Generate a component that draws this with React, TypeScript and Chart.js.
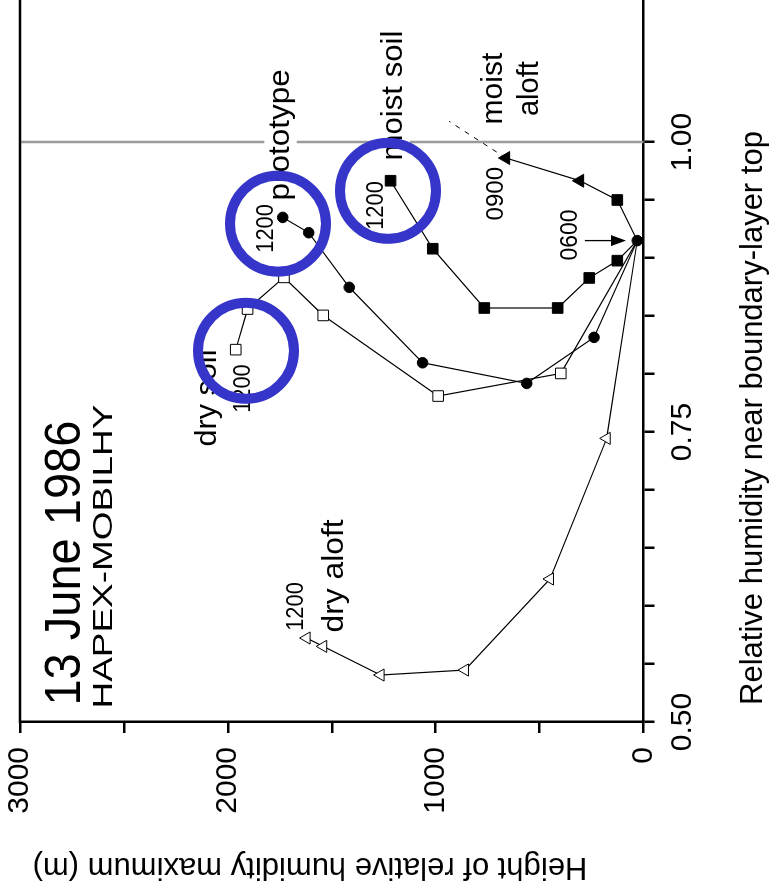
import React, { useEffect, useRef } from "react";
import { Chart, registerables } from "chart.js";

Chart.register(...registerables);

// ---- data (relative humidity near BL top, height of RH maximum in m) ----
const prototypeRH = [0.915, 0.8316, 0.7919, 0.8097, 0.8747, 0.9218, 0.935];
const prototypeHeight = [30, 238, 562, 1063, 1416, 1611, 1736];

const drySoilRH = [0.915, 0.8005, 0.781, 0.8505, 0.8833, 0.856, 0.821];
const drySoilHeight = [30, 398, 988, 1541, 1730, 1905, 1962];

const moistSoilRH = [0.915, 0.8977, 0.8828, 0.8569, 0.8569, 0.908, 0.9666];
const moistSoilHeight = [30, 126, 261, 413, 766, 1014, 1217];

const moistAloftRH = [0.915, 0.95, 0.9666, 0.9862];
const moistAloftHeight = [30, 126, 306, 662];

const moistAloftTrendRH = [0.9862, 1.0178];
const moistAloftTrendHeight = [662, 935];

const dryAloftRH = [0.915, 0.7445, 0.6233, 0.5448, 0.5405, 0.5652, 0.5724];
const dryAloftHeight = [30, 177, 450, 859, 1265, 1541, 1621];

// axis ticks
const rhTicks = [0.5, 0.55, 0.6, 0.65, 0.7, 0.75, 0.8, 0.85, 0.9, 0.95, 1.0];
const rhTickLabels = ["0.50", "0.75", "1.00"];
const heightTicks = [0, 500, 1000, 1500, 2000, 2500, 3000];
const heightTickLabels = ["0", "1000", "2000", "3000"];

const referenceRH = 1.0;

// annotation texts: [text, RH, height]
const annotationTexts = ["13 June 1986", "HAPEX-MOBILHY", "dry soil", "1200", "prototype", "1200", "moist soil", "1200", "moist", "aloft", "0900", "0600", "dry aloft", "1200"];
const annotationRH = [0.5142, 0.5116, 0.7375, 0.7665, 0.9496, 0.9045, 0.984, 0.9243, 1.046, 1.046, 0.9323, 0.8978, 0.5772, 0.5786];
const annotationHeight = [2712, 2558, 2057, 1894, 1706, 1783, 1162, 1253, 681, 508, 676, 320, 1446, 1638];

// 0600 arrow (RH, height from -> to)
const arrowRH = [0.915, 0.915];
const arrowHeight = [282, 84];

// highlighted 1200 points (blue rings)
const ringRH = [0.9296, 0.9579, 0.82];
const ringHeight = [1759, 1229, 1913];

const FONT = '"Liberation Sans", Arial, Helvetica, sans-serif';

// styles for annotations (size, horizontal stretch, align, white background)
const annotationStyle: Array<[number, number, string, boolean]> = [
  [50, 0.94, "left", false],
  [28, 1.32, "left", false],
  [30, 1.02, "left", false],
  [23, 0.95, "left", false],
  [30, 1.05, "left", true],
  [23, 0.95, "left", false],
  [30, 1.04, "left", true],
  [23, 0.95, "left", false],
  [30, 1.0, "center", false],
  [29, 1.0, "center", false],
  [23, 1.05, "left", false],
  [23, 1.0, "left", false],
  [30, 1.06, "left", false],
  [23, 0.95, "left", false],
];

function pts(xs: number[], ys: number[]) {
  return xs.map((v, i) => ({ x: v, y: ys[i] }));
}

function drawLabel(ctx: CanvasRenderingContext2D, text: string, px: number, py: number, size: number, sx: number, align: string, bg: boolean) {
  ctx.save();
  ctx.font = `${size}px ${FONT}`;
  const w = ctx.measureText(text).width * sx;
  const left = align === "center" ? px - w / 2 : px;
  if (bg) {
    ctx.fillStyle = "#ffffff";
    ctx.fillRect(left - 3, py - size * 0.82, w + 6, size * 1.08);
  }
  ctx.translate(left, py);
  ctx.scale(sx, 1);
  ctx.fillStyle = "#000";
  ctx.textAlign = "left";
  ctx.textBaseline = "alphabetic";
  ctx.fillText(text, 0, 0);
  ctx.restore();
}

const overlayPlugin = {
  id: "overlay",
  beforeDatasetsDraw(chart: any) {
    const { ctx, chartArea, scales } = chart;
    const xs = scales.x;
    ctx.save();
    const px = xs.getPixelForValue(referenceRH);
    ctx.strokeStyle = "#9b9b9b";
    ctx.lineWidth = 2.5;
    ctx.beginPath();
    ctx.moveTo(px, chartArea.top);
    ctx.lineTo(px, chartArea.bottom);
    ctx.stroke();
    ctx.strokeStyle = "#000";
    ctx.lineWidth = 2.5;
    ctx.beginPath();
    ctx.moveTo(chartArea.left - 1.25, chartArea.top);
    ctx.lineTo(chartArea.right, chartArea.top);
    ctx.stroke();
    ctx.restore();
  },
  afterDatasetsDraw(chart: any) {
    const { ctx, scales } = chart;
    const xs = scales.x;
    const ys = scales.y;
    // text annotations
    annotationTexts.forEach((t, i) => {
      const [size, sx, align, bg] = annotationStyle[i];
      drawLabel(ctx, t, xs.getPixelForValue(annotationRH[i]), ys.getPixelForValue(annotationHeight[i]), size, sx, align, bg);
    });
    // 0600 arrow
    const ax = xs.getPixelForValue(arrowRH[0]);
    const ay0 = ys.getPixelForValue(arrowHeight[0]);
    const ay1 = ys.getPixelForValue(arrowHeight[1]);
    ctx.save();
    ctx.strokeStyle = "#000";
    ctx.fillStyle = "#000";
    ctx.lineWidth = 1.3;
    ctx.beginPath();
    ctx.moveTo(ax, ay0);
    ctx.lineTo(ax, ay1 - 12);
    ctx.stroke();
    ctx.beginPath();
    ctx.moveTo(ax, ay1);
    ctx.lineTo(ax - 5.5, ay1 - 15);
    ctx.lineTo(ax + 5.5, ay1 - 15);
    ctx.closePath();
    ctx.fill();
    ctx.restore();
    // axis titles
    ctx.save();
    ctx.fillStyle = "#000";
    ctx.font = `31px ${FONT}`;
    ctx.textAlign = "center";
    ctx.textBaseline = "alphabetic";
    ctx.fillText("Relative humidity near boundary-layer top", xs.left + 304, 762);
    ctx.translate(34, 310);
    ctx.rotate(-Math.PI / 2);
    ctx.fillText("Height of relative humidity maximum (m)", 0, 0);
    ctx.restore();
  },
  afterDraw(chart: any) {
    const { ctx, scales } = chart;
    ctx.save();
    ctx.strokeStyle = "#3535c9";
    ctx.lineWidth = 10;
    ringRH.forEach((r, i) => {
      ctx.beginPath();
      ctx.arc(scales.x.getPixelForValue(r), scales.y.getPixelForValue(ringHeight[i]), 48, 0, Math.PI * 2);
      ctx.stroke();
    });
    ctx.restore();
  },
};

export default function App() {
  const canvasRef = useRef<HTMLCanvasElement | null>(null);

  useEffect(() => {
    if (!canvasRef.current) return;
    const lineBase = {
      showLine: true,
      borderColor: "#000",
      borderWidth: 1.2,
      pointBorderColor: "#000",
      pointBorderWidth: 1,
    };
    const chart = new Chart(canvasRef.current, {
      type: "scatter",
      data: {
        datasets: [
          {
            ...lineBase,
            label: "dry aloft",
            data: pts(dryAloftRH, dryAloftHeight),
            pointStyle: "triangle",
            pointRadius: dryAloftRH.map((_, i) => (i === 0 ? 0 : 7)),
            pointBackgroundColor: "#fff",
          },
          {
            ...lineBase,
            label: "moist aloft trend",
            data: pts(moistAloftTrendRH, moistAloftTrendHeight),
            borderDash: [5, 6],
            borderWidth: 1,
            pointRadius: 0,
          },
          {
            ...lineBase,
            label: "moist aloft",
            data: pts(moistAloftRH, moistAloftHeight),
            pointStyle: ["circle", "rect", "triangle", "triangle"],
            pointRadius: [0, 7.5, 7.5, 7.5],
            pointBackgroundColor: "#000",
          },
          {
            ...lineBase,
            label: "moist soil",
            data: pts(moistSoilRH, moistSoilHeight),
            pointStyle: "rect",
            pointRadius: moistSoilRH.map((_, i) => (i === 0 ? 0 : 7.5)),
            pointBackgroundColor: "#000",
          },
          {
            ...lineBase,
            label: "dry soil",
            data: pts(drySoilRH, drySoilHeight),
            pointStyle: "rect",
            pointRadius: drySoilRH.map((_, i) => (i === 0 ? 0 : 7.5)),
            pointBackgroundColor: "#fff",
          },
          {
            ...lineBase,
            label: "prototype",
            data: pts(prototypeRH, prototypeHeight),
            pointStyle: "circle",
            pointRadius: 5.3,
            pointBackgroundColor: "#000",
          },
        ],
      },
      options: {
        animation: false,
        responsive: false,
        devicePixelRatio: 1,
        events: [],
        layout: { autoPadding: false, padding: { top: 20, left: 0, right: 0, bottom: 0 } },
        plugins: { legend: { display: false }, tooltip: { enabled: false }, title: { display: false } },
        scales: {
          x: {
            type: "linear",
            min: 0.5,
            max: 1.1224,
            afterFit: (s: any) => {
              s.height = 129.5;
              s.paddingLeft = 0;
              s.paddingRight = 0;
            },
            afterBuildTicks: (s: any) => {
              s.ticks = rhTicks.map((v) => ({ value: v }));
            },
            ticks: {
              autoSkip: false,
              maxRotation: 0,
              minRotation: 0,
              padding: 10,
              color: "#000",
              font: { family: FONT, size: 30 },
              callback: (v: any) => {
                const s = Number(v).toFixed(2);
                return rhTickLabels.includes(s) ? s : "";
              },
            },
            grid: { display: true, drawOnChartArea: false, drawTicks: true, tickLength: 11, lineWidth: 2.5, color: "#000" },
            border: { display: true, width: 2.5, color: "#000" },
          },
          y: {
            type: "linear",
            min: 0,
            max: 3000,
            afterFit: (s: any) => {
              s.width = 170;
              s.paddingTop = 0;
              s.paddingBottom = 0;
            },
            afterBuildTicks: (s: any) => {
              s.ticks = heightTicks.map((v) => ({ value: v }));
            },
            ticks: {
              autoSkip: false,
              padding: 14,
              color: "#000",
              font: { family: FONT, size: 30 },
              callback: (v: any) => {
                const s = String(Math.round(Number(v)));
                return heightTickLabels.includes(s) ? s : "";
              },
            },
            grid: { display: true, drawOnChartArea: false, drawTicks: true, tickLength: 11, lineWidth: 2.5, color: "#000" },
            border: { display: true, width: 2.5, color: "#000" },
          },
        },
      },
      plugins: [overlayPlugin],
    } as any);
    return () => chart.destroy();
  }, []);

  return (
    <div style={{ position: "absolute", left: 0, top: 0, width: 773, height: 892, overflow: "hidden", background: "#fff" }}>
      <div
        style={{
          position: "absolute",
          left: 0,
          top: 0,
          width: 892,
          height: 773,
          transformOrigin: "0 0",
          transform: "translateY(892px) rotate(-90deg)",
        }}
      >
        <canvas ref={canvasRef} width={892} height={773} style={{ display: "block", width: 892, height: 773 }} />
      </div>
    </div>
  );
}
